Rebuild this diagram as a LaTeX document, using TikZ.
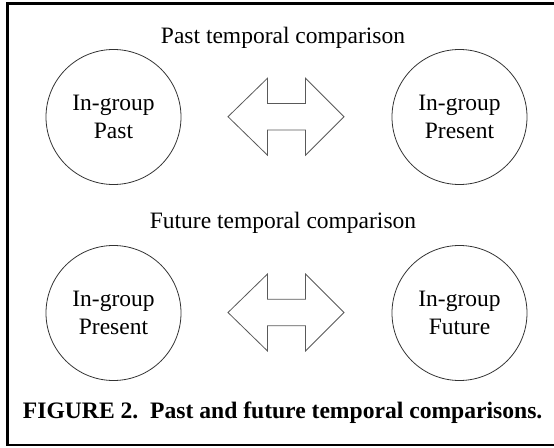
\documentclass[tikz,border=0pt]{standalone}
\usepackage{fontspec}
\setmainfont{Liberation Serif}
\begin{document}
\begin{tikzpicture}[x=1pt,y=-1pt,
  every node/.style={inner sep=0pt, outer sep=0pt},
  bubble/.style={circle, draw=black!80, line width=0.8pt, minimum size=135pt, align=center,
    font=\fontsize{23.5}{27.5}\selectfont},
  title/.style={anchor=base, font=\fontsize{23.5}{27.5}\selectfont},
  arrowshape/.style={draw=black!65, line width=0.8pt, line join=miter},
  frame/.style={line width=2.6pt, black}
]
\useasboundingbox (0,0) rectangle (554,447);
% frame
\draw[frame] (7.3,2) -- (7.3,446.3);
\draw[frame, line width=2.5pt] (6,3.4) -- (554,3.4);
\draw[frame, line width=2pt] (6,445) -- (554,445);

% titles
\node[title] (t1) at (283,43) {Past temporal comparison};
\node[title] (t2) at (283,228) {Future temporal comparison};

% circles
\node[bubble] (pastL) at (113.5,117) {In-group\\Past};
\node[bubble] (pastR) at (459.5,117) {In-group\\Present};
\node[bubble] (futL) at (113.5,313) {In-group\\Present};
\node[bubble] (futR) at (459.5,313) {In-group\\Future};

% double arrows
\coordinate (a1) at (286,116.7);
\coordinate (a2) at (286,312.5);
\foreach \c in {a1,a2}{
  \draw[arrowshape, shift={(\c)}]
    (-58,0) -- (-18.5,-38.5) -- (-18.5,-13.3) -- (19.5,-13.3) -- (19.5,-38.5)
    -- (58,0) -- (19.5,38.5) -- (19.5,13.3) -- (-18.5,13.3) -- (-18.5,38.5) -- cycle;
}

% caption
\node[anchor=base west, font=\fontsize{23.6}{27.5}\selectfont\bfseries] (cap) at (23,418)
  {FIGURE 2.\ \ Past and future temporal comparisons.};
\end{tikzpicture}
\end{document}
